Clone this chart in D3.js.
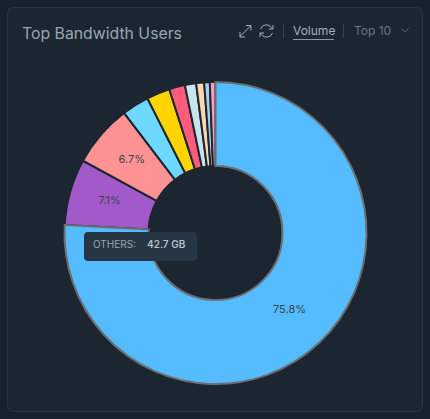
<!DOCTYPE html>
<html>
<head>
<meta charset="utf-8">
<script src="https://cdn.jsdelivr.net/npm/d3@7"></script>
<style>
  html, body { margin: 0; padding: 0; background: #16222b; }
  svg { display: block; font-family: Inter, sans-serif; }
</style>
</head>
<body>
<svg id="chart" width="430" height="419"></svg>
<script>
const users = ["Others", "User 2", "User 3", "User 4", "User 5", "User 6", "User 7", "User 8", "User 9", "User 10"];
const shares = [75.8, 7.1, 6.7, 2.9, 2.5, 1.7, 1.2, 0.85, 0.6, 0.6];
const colors = ["#55bdff", "#a259c9", "#ff9393", "#6fd8ff", "#ffd400", "#ff5c7c", "#c9e4ed", "#ffd6b0", "#9fd0ec", "#ff9ec0"];
const shownLabels = ["75.8%", "7.1%", "6.7%"];

const svg = d3.select("#chart");

//Card
svg.append("rect")
  .attr("x", 7.5).attr("y", 7.5)
  .attr("width", 415).attr("height", 404)
  .attr("rx", 6)
  .attr("fill", "#1b2630")
  .attr("stroke", "#29363f");

//Header
svg.append("text").attr("x", 22).attr("y", 39)
  .attr("font-size", 15.8).attr("fill", "#98a6b0")
  .text("Top Bandwidth Users");
svg.append("text").attr("x", 293).attr("y", 34.5)
  .attr("font-size", 12).attr("fill", "#a3b0b9")
  .text("Volume");
svg.append("line")
  .attr("x1", 293).attr("x2", 334).attr("y1", 39.5).attr("y2", 39.5)
  .attr("stroke", "#8b99a3");
svg.append("text").attr("x", 354).attr("y", 34.5)
  .attr("font-size", 12).attr("fill", "#6a7882")
  .text("Top 10");
svg.selectAll(".sep").data([283.5, 343.5]).join("line")
  .attr("class", "sep")
  .attr("x1", d => d).attr("x2", d => d)
  .attr("y1", 24).attr("y2", 38)
  .attr("stroke", "#33424c");

//Chevron, expand and refresh icons
svg.append("path").attr("d", "M401.5 28.5l3.5 3.5l3.5-3.5")
  .attr("fill", "none").attr("stroke", "#5a6873");
svg.append("path")
  .attr("d", "M240 36.5l10.5-10.5M240 32v5h5M246 25.5h5v5")
  .attr("fill", "none").attr("stroke", "#a3b0b9").attr("stroke-width", 1);
svg.append("path")
  .attr("d", "M260.5 29a6.2 6.2 0 0 1 11-1.5l1.5 1.5M273 25v4h-4M272.5 33a6.2 6.2 0 0 1-11 1.5l-1.5-1.5M260 37v-4h4")
  .attr("fill", "none").attr("stroke", "#a3b0b9").attr("stroke-width", 1);

//Donut
const cx = 215.5, cy = 233, outer = 151, inner = 67;
const pie = d3.pie().sort(null).value(d => d);
const arc = d3.arc().innerRadius(inner).outerRadius(outer);
const g = svg.append("g").attr("transform", `translate(${cx},${cy})`);
const slices = pie(shares);

g.selectAll("path.slice").data(slices).join("path")
  .attr("class", "slice")
  .attr("d", arc)
  .attr("fill", (d, i) => colors[i])
  .attr("stroke", "#1b2630")
  .attr("stroke-width", 2);

//The hovered slice sits on top with a grey edge
g.append("path").datum(slices[0])
  .attr("d", arc)
  .attr("fill", colors[0])
  .attr("stroke", "#6b6f75")
  .attr("stroke-width", 2);

g.selectAll("text.pct").data(slices.slice(0, 3)).join("text")
  .attr("class", "pct")
  .attr("transform", d => {
    const [x, y] = arc.centroid(d);
    return `translate(${x - 1},${y - 3})`;
  })
  .attr("text-anchor", "middle")
  .attr("dy", "0.35em")
  .attr("font-size", 11)
  .attr("fill", "#3a4450")
  .text((d, i) => shownLabels[i]);

//Tooltip
svg.append("rect")
  .attr("x", 84).attr("y", 232)
  .attr("width", 113).attr("height", 29)
  .attr("rx", 4)
  .attr("fill", "#273644");
svg.append("text").attr("x", 93).attr("y", 248)
  .attr("font-size", 10).attr("fill", "#98a6b0")
  .text("OTHERS:");
svg.append("text").attr("x", 147).attr("y", 248)
  .attr("font-size", 10).attr("font-weight", 600).attr("fill", "#b4bfc7")
  .text("42.7 GB");
</script>
</body>
</html>
